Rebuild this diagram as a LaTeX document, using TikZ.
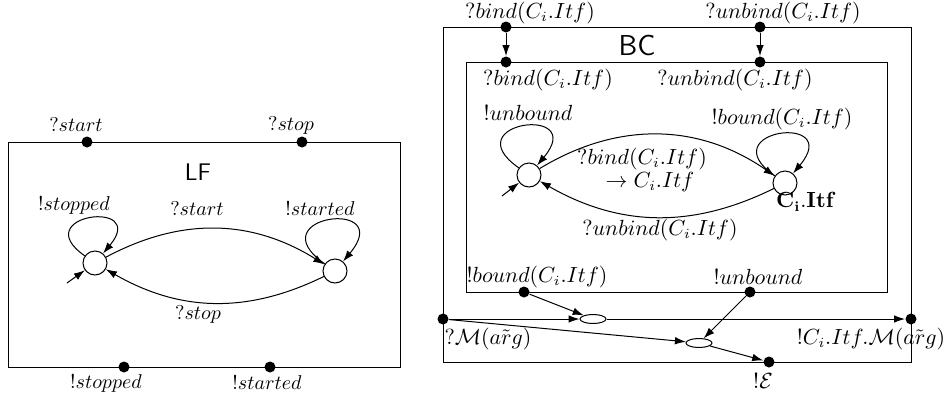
\documentclass[tikz,border=0pt]{standalone}
\usetikzlibrary{arrows.meta,shapes.geometric}
\begin{document}
\begin{tikzpicture}[x=0.5pt,y=-0.5pt,
  line width=0.5pt,
  arr/.style={-{Latex[length=5.5pt,width=3.8pt]}},
  port/.style={circle,fill=black,inner sep=0pt,minimum size=5.5pt},
  state/.style={circle,draw,inner sep=0pt,minimum size=12pt},
  junc/.style={ellipse,draw,inner sep=0pt,minimum width=13pt,minimum height=4.5pt,fill=white},
  lbl/.style={inner sep=0pt},
  rlbl/.style={inner sep=0pt,font=\fontsize{10.5}{12}\selectfont},
  title/.style={font=\sffamily\large,inner sep=0pt},
  loopy/.style={arr,out=145,in=50,distance=36pt}]
\useasboundingbox (0,0) rectangle (944,397);
% ---------------- LF ----------------
\draw (8,142) rectangle (400,367);
\node[title] (lf) at (198,172) {LF};
\node[port] (pstart) at (87,142) {};
\node[port] (pstop) at (302,142) {};
\node[port] (pstopped) at (124,367) {};
\node[port] (pstarted) at (270,367) {};
\node[lbl] (lstart) at (76,125) {$?start$};
\node[lbl] (lstop) at (291,125) {$?stop$};
\node[lbl] (lstopped) at (106,383) {$!stopped$};
\node[lbl] (lstarted) at (267,383) {$!started$};
\node[state] (s0) at (95,263) {};
\node[state] (s1) at (335,271) {};
\draw[loopy] (s0) to (s0);
\draw[loopy,distance=42pt] (s1) to (s1);
\node[lbl] (ls0) at (74,205) {$!stopped$};
\node[lbl] (ls1) at (320,209) {$!started$};
\draw[arr] (s0) to[bend left=30] (s1);
\draw[arr] (s1) to[bend left=28] (s0);
\node[lbl] (le1) at (197,209) {$?start$};
\node[lbl] (le2) at (198,314) {$?stop$};
\coordinate (i0) at (67,283);
\draw[arr] (i0) -- (s0);
% ---------------- BC ----------------
\draw (443,27) rectangle (911,362);
\draw (466,62) rectangle (887,292);
\node[title,font=\sffamily\Large] (bc) at (637,46) {BC};
\node[port] (ob) at (506,27) {};
\node[port] (ou) at (760,27) {};
\node[port] (ib) at (506,62) {};
\node[port] (iu) at (760,62) {};
\draw[arr] (ob) -- (ib);
\draw[arr] (ou) -- (iu);
\node[rlbl] (lob) at (530,13) {$?bind(C_i.Itf)$};
\node[rlbl] (lou) at (783,13) {$?unbind(C_i.Itf)$};
\node[rlbl] (lib) at (548,80) {$?bind(C_i.Itf)$};
\node[rlbl] (liu) at (735,80) {$?unbind(C_i.Itf)$};
\node[state] (t0) at (529,175) {};
\node[state] (t1) at (785,183) {};
\draw[loopy,distance=40pt] (t0) to (t0);
\draw[loopy,distance=40pt] (t1) to (t1);
\node[rlbl] (lt0) at (528,113) {$!unbound$};
\node[rlbl] (lt1) at (782,119) {$!bound(C_i.Itf)$};
\draw[arr] (t0) to[bend left=33] (t1);
\draw[arr] (t1) to[bend left=28] (t0);
\node[rlbl] (lf1) at (642,159) {$?bind(C_i.Itf)$};
\node[rlbl] (lf1b) at (650,182) {$\rightarrow C_i.Itf$};
\node[rlbl] (lf2) at (660,230) {$?unbind(C_i.Itf)$};
\node[rlbl] (lt1n) at (806,202) {$\mathbf{C_i.Itf}$};
\coordinate (j0) at (502,196);
\draw[arr] (j0) -- (t0);
% bottom part
\node[port] (pb) at (524,292) {};
\node[port] (pu) at (750,292) {};
\node[rlbl] (lpb) at (537,277) {$!bound(C_i.Itf)$};
\node[rlbl] (lpu) at (758,277) {$!unbound$};
\node[port] (pm) at (443,319) {};
\node[port] (pc) at (911,319) {};
\node[port] (pe) at (769,362) {};
\node[junc] (e1) at (593,319) {};
\node[junc] (e2) at (699,343) {};
\draw[arr] (pm) -- (e1);
\draw[arr] (e1) -- (pc);
\draw[arr] (pm) -- (e2);
\draw[arr] (pb) -- (e1);
\draw[arr] (pu) -- (e2);
\draw[arr] (e2) -- (pe);
\node[rlbl] (lpm) at (488,339) {$?\mathcal{M}(\tilde{arg})$};
\node[rlbl] (lpc) at (871,339) {$!C_i.Itf.\mathcal{M}(\tilde{arg})$};
\node[rlbl] (lpe) at (763,381) {$!\mathcal{E}$};
\end{tikzpicture}
\end{document}
